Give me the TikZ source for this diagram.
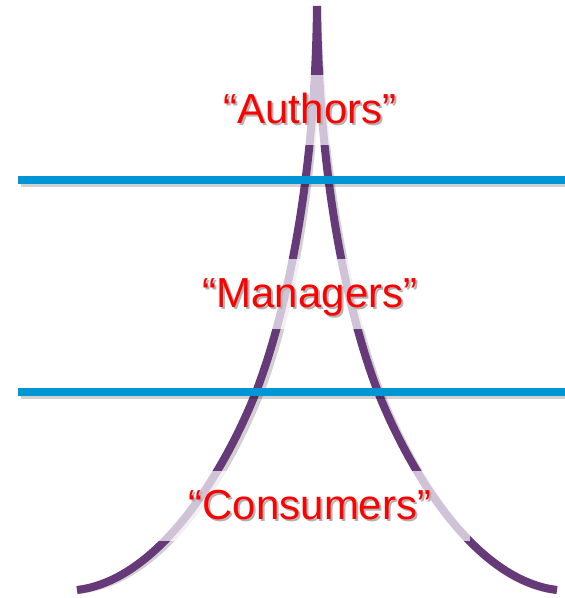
\documentclass[tikz,border=0pt]{standalone}
\usepackage{fontspec}
\setmainfont{Liberation Sans}
\usetikzlibrary{calc}

\definecolor{spirepurple}{RGB}{102,57,121}
\definecolor{tierblue}{RGB}{0,150,214}
\definecolor{quotered}{RGB}{255,0,0}
\newcommand{\shadowed}[1]{\makebox[0pt][l]{\hspace{2pt}\raisebox{-2pt}{\color{black!30}#1}}#1}

\begin{document}
\begin{tikzpicture}[x=1pt, y=-1pt,
	spireline/.style={line width=8pt, color=spirepurple},
	tierline/.style={line width=8pt, color=tierblue},
	drop/.style={line width=8pt, black, opacity=0.18, shift={(3,3)}},
	tier/.style={fill=white, fill opacity=0.7, text opacity=1, text=quotered, minimum width=320pt, inner ysep=16pt, text height=32pt, text depth=6pt, font=\fontsize{42}{50}\selectfont}]
	\useasboundingbox (0,0) rectangle (565,598);
	\coordinate (peak) at (317,6);
	\coordinate (leftfoot) at (77,590);
	\coordinate (rightfoot) at (557,590);
	% the spire
	\draw[drop] (peak) .. controls (315,200) and (280,330) .. (256,392) .. controls (225,470) and (160,580) .. (leftfoot);
	\draw[drop] (peak) .. controls (319,200) and (354,330) .. (378,392) .. controls (409,470) and (474,580) .. (rightfoot);
	\draw[spireline] (peak) .. controls (315,200) and (280,330) .. (256,392) .. controls (225,470) and (160,580) .. (leftfoot);
	\draw[spireline] (peak) .. controls (319,200) and (354,330) .. (378,392) .. controls (409,470) and (474,580) .. (rightfoot);
	% layer boundaries
	\draw[drop] (18,180) -- (565,180);
	\draw[drop] (18,392) -- (565,392);
	\draw[tierline] (18,180) -- (565,180);
	\draw[tierline] (18,392) -- (565,392);
	% tiers
	\node[tier] (authors) at (310,110) {\shadowed{“Authors”}};
	\node[tier] (managers) at (310,294) {\shadowed{“Managers”}};
	\node[tier] (consumers) at (310,506) {\shadowed{“Consumers”}};
\end{tikzpicture}
\end{document}
